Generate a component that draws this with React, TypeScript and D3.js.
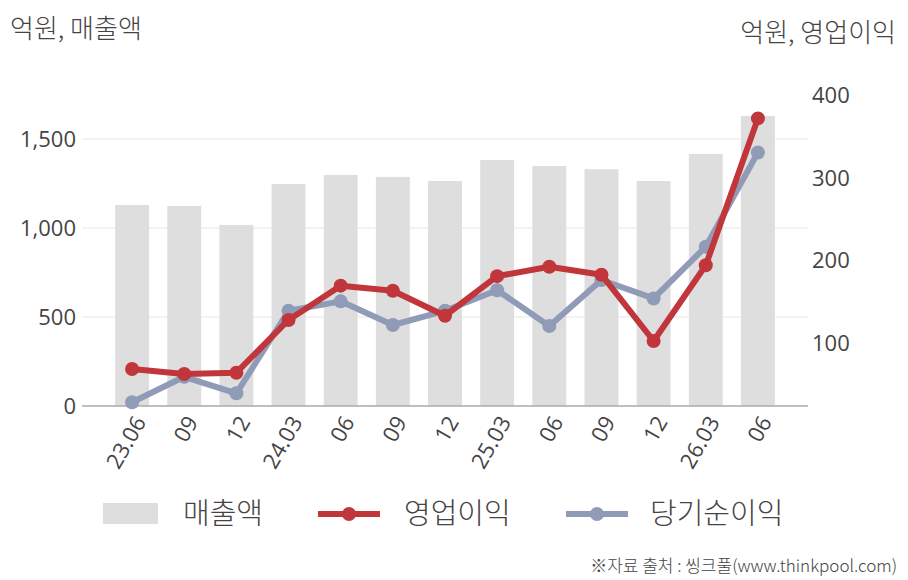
import * as d3 from "d3";

const categories = ["23.06", "09", "12", "24.03", "06", "09", "12", "25.03", "06", "09", "12", "26.03", "06"];
const sales = [1129, 1124, 1017, 1247, 1298, 1287, 1264, 1382, 1348, 1330, 1264, 1416, 1629];
const operatingProfit = [68.5, 62.4, 64, 127.9, 169.5, 163.4, 133, 181, 192.5, 182.8, 102.4, 194.2, 372.3];
const netIncome = [28.1, 59, 39, 139, 150.5, 121.8, 139, 164, 120.6, 176.4, 154, 216.7, 331];
const leftTicks = [0, 500, 1000, 1500];
const rightTicks = [100, 200, 300, 400];

const W = 908;
const H = 580;
const FONT = "'Noto Sans CJK KR', 'Noto Sans', sans-serif";
const NUM_FONT = "'Open Sans', 'Noto Sans', sans-serif";
const TEXT = "#444";
const RED = "#c0363a";
const BLUE = "#8f9bb7";
const BAR = "#dedede";

const App = () => {
  const x = d3.scaleBand<string>()
    .domain(categories.map((_, i) => String(i)))
    .range([106, 784])
    .paddingInner(0.35)
    .paddingOuter(0.175);
  const yLeft = d3.scaleLinear().domain([0, 2000]).range([406, 50]);
  const yRight = d3.scaleLinear().domain([23.6, 455.2]).range([406, 50]);
  const cx = (i: number) => (x(String(i)) ?? 0) + x.bandwidth() / 2;

  const line = d3.line<number>().x((_, i) => cx(i)).y((d) => yRight(d));
  const fmt = d3.format(",");

  return (
    <svg width={W} height={H} style={{ position: "absolute", left: 0, top: 0, background: "#fff" }} fontFamily={FONT} fontWeight={300}>
      {/* axis titles */}
      <text x={10} y={38} fontSize={26} fill={TEXT}>억원, 매출액</text>
      <text x={896} y={42} fontSize={26} fill={TEXT} textAnchor="end">억원, 영업이익</text>

      {/* gridlines */}
      {leftTicks.filter((t) => t > 0).map((t) => (
        <line key={t} x1={82} x2={808} y1={yLeft(t)} y2={yLeft(t)} stroke="#e6e6e6" strokeWidth={1} />
      ))}

      {/* bars */}
      {sales.map((v, i) => (
        <rect key={i} x={x(String(i))} y={yLeft(v)} width={x.bandwidth()} height={yLeft(0) - yLeft(v)} fill={BAR} />
      ))}

      <line x1={82} x2={808} y1={yLeft(0)} y2={yLeft(0)} stroke="#aaa" strokeWidth={1.5} />

      {/* left ticks */}
      {leftTicks.map((t) => (
        <text key={t} x={76} y={yLeft(t)} dy="0.35em" fontSize={22} fontFamily={NUM_FONT} fontWeight={400} fill={TEXT} textAnchor="end">{fmt(t)}</text>
      ))}
      {/* right ticks */}
      {rightTicks.map((t) => (
        <text key={t} x={812} y={yRight(t)} dy="0.35em" fontSize={22} fontFamily={NUM_FONT} fontWeight={400} fill={TEXT}>{t}</text>
      ))}

      {/* x labels */}
      {categories.map((c, i) => (
        <text key={i} transform={`translate(${cx(i) + 8},${418}) rotate(-60)`} dy="0.35em" fontSize={22} fontFamily={NUM_FONT} fontWeight={400} fill={TEXT} textAnchor="end">{c}</text>
      ))}

      {/* net income */}
      <path d={line(netIncome) ?? ""} fill="none" stroke={BLUE} strokeWidth={6} strokeLinejoin="round" />
      {netIncome.map((v, i) => (
        <circle key={i} cx={cx(i)} cy={yRight(v)} r={7} fill={BLUE} />
      ))}

      {/* operating profit */}
      <path d={line(operatingProfit) ?? ""} fill="none" stroke={RED} strokeWidth={6} strokeLinejoin="round" />
      {operatingProfit.map((v, i) => (
        <circle key={i} cx={cx(i)} cy={yRight(v)} r={7} fill={RED} />
      ))}

      {/* legend */}
      <rect x={103} y={503} width={55} height={21} fill={BAR} />
      <text x={183} y={514} dy="0.35em" fontSize={29} fill={TEXT}>매출액</text>
      <line x1={318} x2={380} y1={514} y2={514} stroke={RED} strokeWidth={6} />
      <circle cx={349} cy={514} r={7} fill={RED} />
      <text x={404} y={514} dy="0.35em" fontSize={29} fill={TEXT}>영업이익</text>
      <line x1={566} x2={628} y1={514} y2={514} stroke={BLUE} strokeWidth={6} />
      <circle cx={597} cy={514} r={7} fill={BLUE} />
      <text x={650} y={514} dy="0.35em" fontSize={29} fill={TEXT}>당기순이익</text>

      <text x={897} y={572} fontSize={17} fill={TEXT} textAnchor="end">※자료 출처 : 씽크풀(www.thinkpool.com)</text>
    </svg>
  );
};

export default App;
